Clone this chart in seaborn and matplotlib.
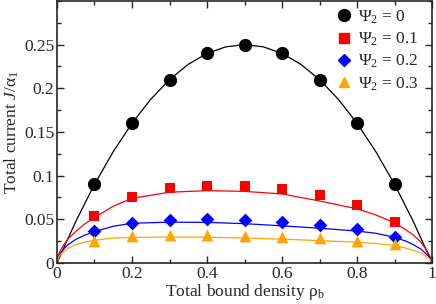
import numpy as np
import pandas as pd
import matplotlib
matplotlib.use("Agg")
import matplotlib.pyplot as plt
from matplotlib.ticker import MultipleLocator, FuncFormatter
from matplotlib.lines import Line2D
import seaborn as sns

# ── Data ───────────────────────────────────────────────────
rho_pts = [0.1, 0.2, 0.3, 0.4, 0.5, 0.6, 0.7, 0.8, 0.9]
j_psi0 = [0.09, 0.16, 0.21, 0.24, 0.25, 0.24, 0.21, 0.16, 0.09]
j_psi1 = [0.054, 0.076, 0.086, 0.0885, 0.088, 0.085, 0.078, 0.066, 0.047]
j_psi2 = [0.037, 0.046, 0.0495, 0.050, 0.049, 0.0467, 0.0432, 0.0386, 0.030]
j_psi3 = [0.0256, 0.0306, 0.032, 0.0317, 0.031, 0.0298, 0.0283, 0.0256, 0.0215]

# theory curves
rho_line0 = [0, 0.05, 0.1, 0.15, 0.2, 0.25, 0.3, 0.35, 0.4, 0.45, 0.5,
             0.55, 0.6, 0.65, 0.7, 0.75, 0.8, 0.85, 0.9, 0.95, 1.0]
line_psi0 = [0, 0.0475, 0.09, 0.1275, 0.16, 0.1875, 0.21, 0.2275, 0.24, 0.2475, 0.25,
             0.2475, 0.24, 0.2275, 0.21, 0.1875, 0.16, 0.1275, 0.09, 0.0475, 0]

rho_line = [0, 0.005, 0.01, 0.02, 0.03, 0.05, 0.075, 0.1, 0.15, 0.2, 0.3, 0.4, 0.5,
            0.6, 0.7, 0.8, 0.85, 0.9, 0.93, 0.95, 0.97, 0.98, 0.99, 0.995, 1.0]
line_psi1 = [0, 0.010, 0.015, 0.022, 0.028, 0.036, 0.045, 0.052, 0.065, 0.074, 0.081, 0.0828, 0.082,
             0.079, 0.071, 0.062, 0.055, 0.046, 0.038, 0.032, 0.024, 0.018, 0.011, 0.007, 0]
line_psi2 = [0, 0.008, 0.012, 0.017, 0.021, 0.027, 0.032, 0.036, 0.042, 0.0455, 0.0467, 0.0465, 0.045,
             0.0425, 0.0398, 0.0365, 0.034, 0.0295, 0.025, 0.021, 0.016, 0.012, 0.008, 0.005, 0]
line_psi3 = [0, 0.007, 0.010, 0.014, 0.017, 0.021, 0.024, 0.026, 0.0285, 0.0292, 0.0297, 0.0295, 0.0285,
             0.0273, 0.0256, 0.0237, 0.0222, 0.020, 0.017, 0.0145, 0.0115, 0.009, 0.006, 0.004, 0]

labels = ["Ψ$_2$ = 0", "Ψ$_2$ = 0.1", "Ψ$_2$ = 0.2", "Ψ$_2$ = 0.3"]
colors = ["black", "#ff0000", "#0000ff", "#ffa500"]
markers = ["o", "s", "D", "^"]
msizes = [9.5, 7.5, 7, 8.5]

# ── Style ──────────────────────────────────────────────────
sns.set_style("ticks")
plt.rcParams["font.family"] = ["Liberation Serif", "DejaVu Serif"]
plt.rcParams["mathtext.fontset"] = "custom"
plt.rcParams["mathtext.rm"] = "Liberation Serif"
plt.rcParams["mathtext.it"] = "Liberation Serif:italic"
plt.rcParams["font.size"] = 12.5

fig = plt.figure(figsize=(4.36, 3.04), dpi=100)
ax = fig.add_axes([0.1307, 0.135, 0.8603, 0.8617])

# ── Lines ──────────────────────────────────────────────────
sns.lineplot(x=rho_line0, y=line_psi0, color=colors[0], lw=0.9, ax=ax, estimator=None, sort=False)
for ys, c in zip([line_psi1, line_psi2, line_psi3], colors[1:]):
    sns.lineplot(x=rho_line, y=ys, color=c, lw=0.9, ax=ax, estimator=None, sort=False)

# ── Points ─────────────────────────────────────────────────
handles = []
for ys, c, m, ms, lab in zip([j_psi0, j_psi1, j_psi2, j_psi3], colors, markers, msizes, labels):
    sns.scatterplot(x=rho_pts, y=ys, color=c, marker=m, s=ms ** 2, edgecolor=c,
                    linewidth=0, ax=ax, zorder=3)
    handles.append(Line2D([], [], ls="none", marker=m, color=c, markersize=ms * 0.9, label=lab))

ax.legend(handles=handles, loc="upper right", bbox_to_anchor=(0.975, 0.985), frameon=False,
          fontsize=12.5, handletextpad=0.2, labelspacing=0.28, borderaxespad=0.0,
          handlelength=1.2, borderpad=0.2)

# ── Axes ───────────────────────────────────────────────────
ax.set_xlim(0, 1)
ax.set_ylim(0, 0.3)
ax.set_xticks([0, 0.2, 0.4, 0.6, 0.8, 1.0])
ax.set_yticks([0, 0.05, 0.1, 0.15, 0.2, 0.25])
ax.xaxis.set_minor_locator(MultipleLocator(0.1))
ax.yaxis.set_minor_locator(MultipleLocator(0.025))
fmt = FuncFormatter(lambda v, p: f"{v:g}")
ax.xaxis.set_major_formatter(fmt)
ax.yaxis.set_major_formatter(fmt)
ax.tick_params(which="both", direction="in", top=True, right=True, width=1, labelsize=12.5)
ax.tick_params(which="major", length=5, pad=2)
ax.tick_params(which="minor", length=3)
for s in ax.spines.values():
    s.set_linewidth(1.2)

ax.set_xlabel("Total bound density ρ$_{\\rm b}$", fontsize=12.5, labelpad=0)
ax.set_ylabel("Total current $J$/α$_1$", fontsize=12.5, labelpad=2)

fig.savefig("out.png", dpi=100)
